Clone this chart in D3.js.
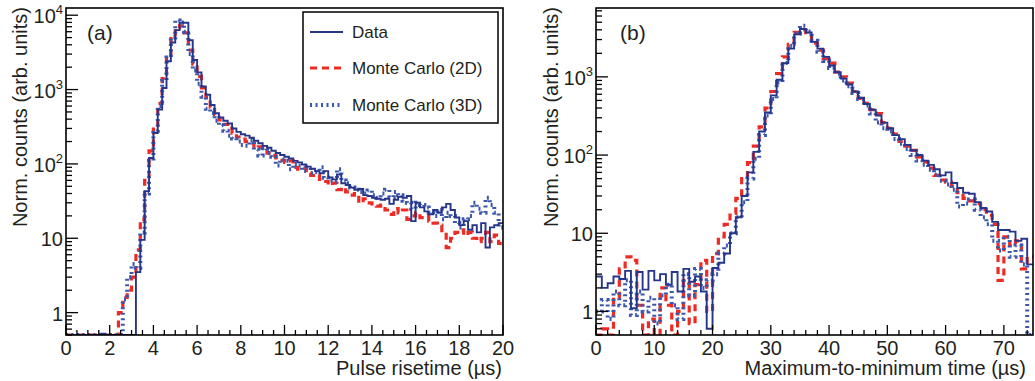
<!DOCTYPE html>
<html><head><meta charset="utf-8">
<script src="https://cdn.jsdelivr.net/npm/d3@7"></script>
<style>body{margin:0;background:#fff}svg{display:block}text{font-family:"Liberation Sans",Arial,sans-serif;fill:#231f20}</style>
</head><body><svg id="c" width="1035" height="381"></svg>
<script>
// ---------- data ----------
// Panel (a): pulse risetime, bins of 0.2 us from 0 to 20
const binWidthA = 0.2;
const dataA = [0,0,0,0,0,0,0,0,0.52,0,0,0,0,0,0,0,3.5,9.5,43,120,260,540,1050,2400,4300,6300,7900,7900,4600,2500,
1700,1100,850,620,480,420,380,350,300,270,250,240,225,205,190,175,165,150,140,132,
125,118,110,105,98,92,86,80,75,80,66,62,72,55,52,48,45,46,38,37,
35,34,33,34,29,33,36,35,37,17,30,26,23,21,24,22,26,29,24,19,
15,17,13,15,12,16,7.5,14,15,16];
const mc2dA = [0,0,0,0,0,0,0,0,0,0,0,0,1.0,1.6,2.0,3.0,7,18,60,150,330,650,1400,3000,5200,6800,7200,5800,3400,2200,
1500,1050,780,580,460,390,340,300,260,230,215,200,190,165,170,150,140,130,120,112,
105,110,90,85,88,75,70,72,62,58,52,55,45,48,42,38,40,30,34,30,
29,27,28,24,21,25,22,24,18,20,22,19,20,17,16,15,12,7.5,10,12,
13,11,12,10,9,10,12,9,11,8.5];
const mc3dA = [0,0,0,0,0,0,0,0,0,0,0,0,0,1.5,3.0,4.5,4.0,12,40,110,280,600,1300,2700,5000,8500,8000,6000,3000,1800,
1200,800,550,480,380,330,280,240,220,200,180,175,210,155,130,160,140,125,95,115,
110,85,100,95,80,90,75,78,90,65,60,58,85,60,55,48,45,42,40,44,
38,35,40,45,36,42,38,32,30,25,30,28,26,22,20,24,18,22,20,16,
14,18,20,30,25,22,35,28,22,14];
const xTicksA = [0,2,4,6,8,10,12,14,16,18,20];

// Panel (b): maximum-to-minimum time, bins of 1 us from 0 to 75
const binWidthB = 1;
const dataB = [2.8,2.0,2.3,2.8,2.6,3.3,1.1,3.2,1.9,3.3,2.5,3.0,2.2,3.2,1.8,3.5,2.4,2.8,1.8,0.6,
3.6,4.2,5.5,10,16,30,60,110,200,350,580,920,1500,2300,3500,4100,3700,2800,2300,1800,
1400,1150,950,800,650,540,450,380,320,260,220,180,160,135,115,100,85,75,66,55,
60,44,38,33,32,25,21,19,14,11,11,10.5,8,8.5,4];
const mc2dB = [0,0.6,0,1.5,3.5,5.0,4.5,1.2,0,0.8,0,2.0,1.2,0,1.0,2.5,0.7,2.2,4.5,1.0,
5.5,9,13,18,28,50,80,130,230,400,650,1100,1800,2600,3700,4000,3400,2700,2200,1700,
1500,1150,1000,830,650,530,460,380,340,260,220,185,150,130,115,95,82,68,55,48,
45,40,33,28,26,24,20,17,13,2.5,9,7,8,3.5,5];
const mc3dB = [1.0,1.4,0.8,1.8,1.2,2.5,0.9,1.8,1.0,1.5,0.7,1.6,2.2,1.2,0.8,3.0,1.6,3.5,2.0,2.5,
3.0,5.5,7,10,16,25,50,90,180,320,520,850,1500,2500,3600,4500,3800,2900,2100,1600,
1300,1100,900,760,620,520,430,340,260,220,200,160,140,120,100,85,75,65,56,47,
42,36,22,24,27,20,16,13,8,6,9,5,7,4,0.5];
const xTicksB = [0,10,20,30,40,50,60,70];

const legendLabels = ["Data","Monte Carlo (2D)","Monte Carlo (3D)"];
const yTitle = "Norm. counts (arb. units)";

// ---------- styles ----------
const col = {data:"#26358a", mc2d:"#ee2a24", mc3d:"#3a57ab"};
const styles = [
  {key:"mc2d", color:col.mc2d, width:3.2, dash:"7,5"},
  {key:"mc3d", color:col.mc3d, width:4, dash:"2,3.5"},
  {key:"data", color:col.data, width:1.9, dash:null}
];

const svg = d3.select("#c");

function panel(cfg){
  const g = svg.append("g");
  const x = d3.scaleLinear().domain(cfg.xdom).range([cfg.x0, cfg.x1]);
  const y = d3.scaleLog().domain(cfg.ydom).range([cfg.y1, cfg.y0]);
  const clipId = "clip"+cfg.id;
  svg.append("clipPath").attr("id",clipId).append("rect")
    .attr("x",cfg.x0).attr("y",cfg.y0).attr("width",cfg.x1-cfg.x0).attr("height",cfg.y1-cfg.y0);

  const series = {data:cfg.data, mc2d:cfg.mc2d, mc3d:cfg.mc3d};
  styles.forEach(s=>{
    const vals = series[s.key];
    const pts = [];
    vals.forEach((v,i)=>{
      const vv = Math.max(v, cfg.ydom[0]);
      pts.push([x(i*cfg.bw), y(vv)]);
      pts.push([x((i+1)*cfg.bw), y(vv)]);
    });
    g.append("path").attr("d", d3.line()(pts))
      .attr("fill","none").attr("stroke",s.color).attr("stroke-width",s.width)
      .attr("stroke-dasharray",s.dash).attr("clip-path",`url(#${clipId})`);
  });

  g.append("rect").attr("x",cfg.x0).attr("y",cfg.y0).attr("width",cfg.x1-cfg.x0).attr("height",cfg.y1-cfg.y0)
    .attr("fill","none").attr("stroke","#000").attr("stroke-width",1.6);

  const minorX = d3.range(cfg.xdom[0], cfg.xdom[1]+1e-9, cfg.minorStep);
  minorX.forEach(t=>{
    const isMajor = cfg.xticks.some(m=>Math.abs(m-t)<1e-6);
    g.append("line").attr("x1",x(t)).attr("x2",x(t)).attr("y1",cfg.y1).attr("y2",cfg.y1-(isMajor?10:5))
      .attr("stroke","#000").attr("stroke-width",1.3);
  });
  cfg.xticks.forEach(t=>{
    g.append("text").attr("x",x(t)).attr("y",355).attr("text-anchor","middle")
      .attr("font-size",20).text(t);
  });
  g.append("text").attr("x",cfg.xtitleX).attr("y",375).attr("text-anchor","end").attr("font-size",20).text(cfg.xtitle);

  const ymin = cfg.ydom[0], ymax = cfg.ydom[1];
  for(let e=-1;e<=5;e++){
    for(let m=1;m<=9;m++){
      const v = m*Math.pow(10,e);
      if(v<ymin-1e-9||v>ymax) continue;
      const major = m===1;
      g.append("line").attr("x1",cfg.x0).attr("x2",cfg.x0+(major?12:6)).attr("y1",y(v)).attr("y2",y(v))
        .attr("stroke","#000").attr("stroke-width",1.3);
      if(major){
        const t = g.append("text").attr("x",cfg.x0-3).attr("y",y(v)+8).attr("text-anchor","end").attr("font-size",20);
        if(e<=1){ t.text(String(v)); }
        else { t.text("10"); t.append("tspan").attr("font-size",13).attr("dy",-9).text(e); }
      }
    }
  }
  g.append("text").attr("transform",`translate(${cfg.ytitleX},7) rotate(-90)`).attr("text-anchor","end")
    .attr("font-size",20).text(yTitle);
  g.append("text").attr("x",cfg.tagX).attr("y",40).attr("font-size",21).text(cfg.tag);
  return {x,y,g};
}

panel({id:"a", x0:66, x1:503, y0:8, y1:335, xdom:[0,20], ydom:[0.5,12500], bw:binWidthA,
  data:dataA, mc2d:mc2dA, mc3d:mc3dA, xticks:xTicksA, minorStep:0.5,
  xtitle:"Pulse risetime (\u00b5s)", xtitleX:502, ytitleX:27, tag:"(a)", tagX:87});
panel({id:"b", x0:596, x1:1033, y0:8, y1:335, xdom:[0,75], ydom:[0.5,7600], bw:binWidthB,
  data:dataB, mc2d:mc2dB, mc3d:mc3dB, xticks:xTicksB, minorStep:2,
  xtitle:"Maximum-to-minimum time (\u00b5s)", xtitleX:1026, ytitleX:558, tag:"(b)", tagX:620});

const lg = svg.append("g");
lg.append("rect").attr("x",303).attr("y",12).attr("width",195).attr("height",111)
  .attr("fill","#fff").attr("stroke","#000").attr("stroke-width",1.5);
const legStyles = [styles[2], styles[0], styles[1]];
legendLabels.forEach((lab,i)=>{
  const cy = [32,68,105][i];
  const s = legStyles[i];
  lg.append("line").attr("x1",310).attr("x2",343).attr("y1",cy).attr("y2",cy)
    .attr("stroke",s.color).attr("stroke-width",s.width).attr("stroke-dasharray",s.dash);
  lg.append("text").attr("x",352).attr("y",cy+6).attr("font-size",17).text(lab);
});
</script></body></html>
